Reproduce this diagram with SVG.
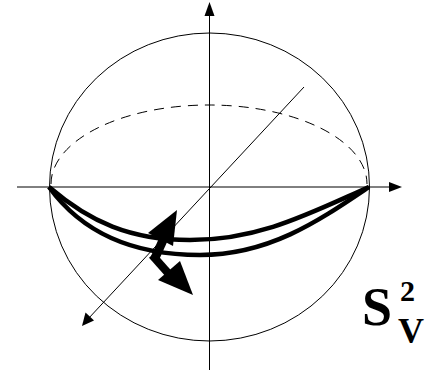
<svg xmlns="http://www.w3.org/2000/svg" width="432" height="374" viewBox="0 0 432 374">
<style>
.thin{fill:none;stroke:#000;stroke-width:1}
.dash{fill:none;stroke:#000;stroke-width:1;stroke-dasharray:10 7}
.thick{fill:none;stroke:#000;stroke-width:4.5;stroke-linejoin:round}
.head{fill:#000;stroke:none}
.lbl{font-family:"Liberation Serif","DejaVu Serif",serif;font-weight:bold;fill:#000}
</style>
<rect width="432" height="374" fill="#fff"/>
<g id="sphere">
<ellipse class="thin" cx="209.5" cy="187" rx="160" ry="154"/>
<path class="dash" d="M51,184 A158,79 0 0 1 367,184"/>
</g>
<g id="axes">
<line class="thin" x1="209.5" y1="370" x2="209.5" y2="12"/>
<polygon class="head" points="209.5,2 204.5,16 214.5,16"/>
<line class="thin" x1="17" y1="187" x2="392" y2="187"/>
<polygon class="head" points="402,187 389,182 389,192"/>
<line class="thin" x1="304" y1="87" x2="88" y2="319"/>
<polygon class="head" points="82,326 85.5,312.5 94,320.5"/>
</g>
<g id="paths">
<path class="thick" d="M49,187 C90,222 130,240 190,240 C260,240 310,213 369,187"/>
<path class="thick" d="M49,187 C80,230 130,255 200,255 C270,255 320,220 369,187"/>
<path d="M49,187 L60,196 L54,190 Z" class="head"/>
</g>
<g id="arrows">
<line x1="164" y1="238" x2="155" y2="258" stroke="#000" stroke-width="9"/>
<line x1="152" y1="255" x2="168" y2="273" stroke="#000" stroke-width="8"/>
<polygon class="head" points="177,210 148,233 173,246"/>
<polygon class="head" points="193,295 158,280 180,261"/>
</g>
<g id="label">
<text class="lbl" x="362" y="325" font-size="54">S</text>
<text class="lbl" x="400" y="301" font-size="30">2</text>
<text class="lbl" x="398" y="343" font-size="36">V</text>
</g>
</svg>
